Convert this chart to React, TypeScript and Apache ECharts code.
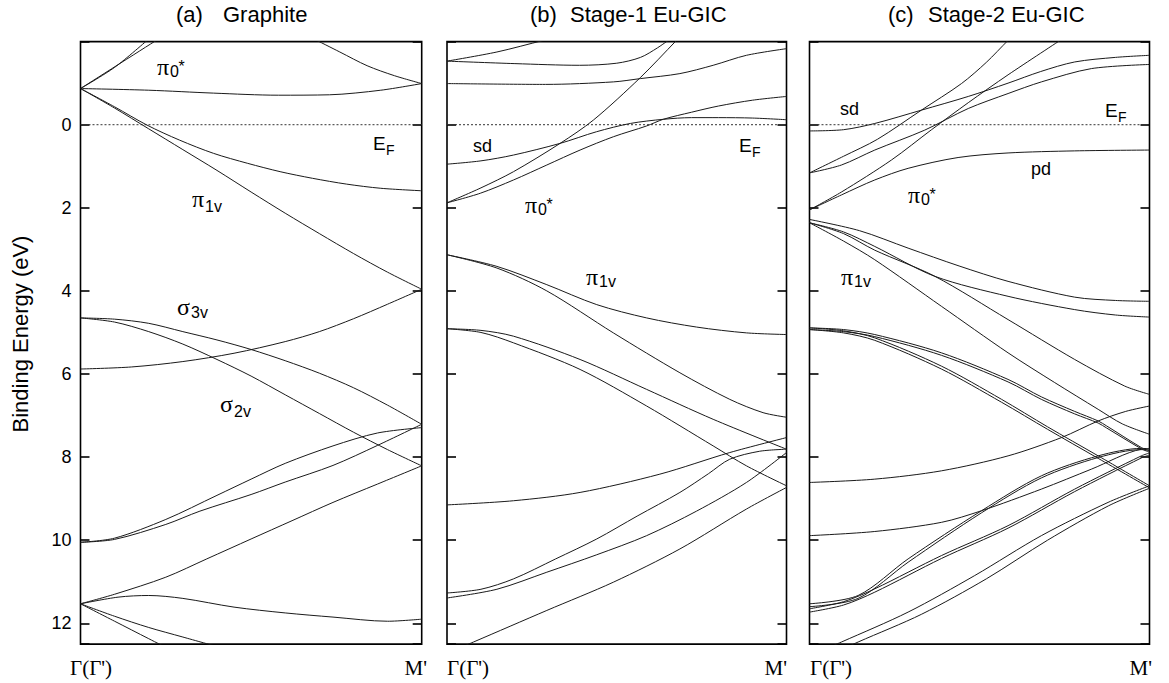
import React, { useEffect, useRef } from 'react';
import * as echarts from 'echarts';

type Pt = [number, number];

// ---------- (a) Graphite bands: [k (Γ=0 … M'=1), binding energy eV] ----------
const gPi0Flat: Pt[] = [[0, -0.87], [0.2, -0.83], [0.39, -0.76], [0.58, -0.71], [0.73, -0.72], [0.88, -0.83], [1, -0.99]];
const gPi0UpA: Pt[] = [[0, -0.87], [0.226, -2.05]];
const gPi0UpB: Pt[] = [[0, -0.87], [0.1, -1.38], [0.198, -2.05]];
const gPi0Right: Pt[] = [[0.69, -2.04], [0.76, -1.75], [0.84, -1.42], [0.92, -1.18], [1, -0.99]];
const gPiUpper: Pt[] = [[0, -0.87], [0.1, -0.43], [0.195, 0.01], [0.29, 0.37], [0.39, 0.69], [0.49, 0.93], [0.585, 1.13], [0.68, 1.29], [0.78, 1.43], [0.88, 1.53], [1, 1.59]];
const gPi1v: Pt[] = [[0, -0.87], [0.1, -0.4], [0.2, 0.1], [0.3, 0.6], [0.4, 1.1], [0.5, 1.62], [0.6, 2.13], [0.7, 2.62], [0.8, 3.1], [0.9, 3.55], [1, 3.96]];
const gSigmaRise: Pt[] = [[0, 5.88], [0.15, 5.83], [0.3, 5.7], [0.45, 5.5], [0.6, 5.22], [0.7, 4.98], [0.8, 4.67], [0.9, 4.32], [1, 3.96]];
const gSigma3v: Pt[] = [[0, 4.65], [0.1, 4.68], [0.2, 4.78], [0.3, 4.98], [0.4, 5.18], [0.5, 5.41], [0.6, 5.68], [0.7, 5.98], [0.8, 6.33], [0.9, 6.75], [1, 7.21]];
const gSigma2v: Pt[] = [[0, 4.65], [0.1, 4.75], [0.2, 4.98], [0.3, 5.28], [0.4, 5.65], [0.5, 6.05], [0.6, 6.5], [0.7, 6.95], [0.8, 7.4], [0.9, 7.82], [1, 8.21]];
const gD1: Pt[] = [[0, 10.05], [0.1, 9.95], [0.25, 9.5], [0.4, 8.92], [0.5, 8.53], [0.6, 8.15], [0.74, 7.73], [0.87, 7.42], [1, 7.29]];
const gD2: Pt[] = [[0, 10.05], [0.1, 9.98], [0.25, 9.62], [0.35, 9.3], [0.5, 8.9], [0.6, 8.6], [0.74, 8.2], [0.87, 7.72], [1, 7.21]];
const gE: Pt[] = [[0, 11.53], [0.1, 11.3], [0.25, 10.89], [0.37, 10.45], [0.5, 9.97], [0.62, 9.53], [0.74, 9.09], [0.87, 8.65], [1, 8.21]];
const gF: Pt[] = [[0, 11.53], [0.11, 11.37], [0.2, 11.33], [0.3, 11.4], [0.45, 11.61], [0.6, 11.75], [0.74, 11.85], [0.9, 11.95], [1, 11.9]];
const gG: Pt[] = [[0, 11.53], [0.1, 11.83], [0.2, 12.1], [0.3, 12.33], [0.4, 12.56]];
const gH: Pt[] = [[0, 11.53], [0.1, 11.95], [0.2, 12.37], [0.26, 12.62]];

// ---------- (b) Stage-1 Eu-GIC ----------
const s1Top1: Pt[] = [[0, -1.53], [0.147, -1.75], [0.284, -2.03], [0.32, -2.1]];
const s1Top2: Pt[] = [[0, -1.53], [0.2, -1.47], [0.39, -1.43], [0.5, -1.48], [0.57, -1.62], [0.62, -1.85], [0.655, -2.05]];
const s1Top3: Pt[] = [[0, -0.99], [0.29, -0.97], [0.49, -1.03], [0.57, -1.11], [0.686, -1.23], [0.784, -1.43], [0.882, -1.67], [1, -1.83]];
const s1Steep: Pt[] = [[0, 1.88], [0.1, 1.52], [0.196, 1.13], [0.333, 0.45], [0.431, -0.11], [0.569, -1.13], [0.676, -2.03], [0.69, -2.15]];
const s1Pi0: Pt[] = [[0, 1.88], [0.098, 1.65], [0.196, 1.33], [0.294, 0.97], [0.392, 0.61], [0.49, 0.29], [0.588, 0.03], [0.637, -0.13], [0.72, -0.3], [0.8, -0.45], [0.9, -0.59], [1, -0.68]];
const s1Sd: Pt[] = [[0, 0.95], [0.1, 0.87], [0.196, 0.73], [0.333, 0.45], [0.44, 0.17], [0.54, -0.03], [0.637, -0.13], [0.72, -0.17], [0.8, -0.17], [0.9, -0.16], [1, -0.12]];
const s1Pi1vUpper: Pt[] = [[0, 3.13], [0.147, 3.41], [0.294, 3.85], [0.441, 4.33], [0.588, 4.65], [0.735, 4.87], [0.882, 5.01], [1, 5.05]];
const s1Pi1vLower: Pt[] = [[0, 3.13], [0.147, 3.45], [0.294, 4.0], [0.49, 5.01], [0.686, 5.97], [0.833, 6.61], [0.931, 6.93], [1, 7.04]];
const s1SigmaUpper: Pt[] = [[0, 4.91], [0.1, 4.95], [0.196, 5.09], [0.392, 5.65], [0.588, 6.37], [0.784, 7.09], [1, 7.81]];
const s1SigmaLower: Pt[] = [[0, 4.91], [0.1, 5.0], [0.196, 5.25], [0.392, 5.89], [0.588, 6.77], [0.784, 7.73], [0.882, 8.21], [1, 8.69]];
const s1Band9: Pt[] = [[0, 9.15], [0.196, 9.05], [0.392, 8.85], [0.627, 8.41], [0.833, 7.89], [1, 7.53]];
const s1L1: Pt[] = [[0, 11.27], [0.1, 11.18], [0.196, 10.93], [0.32, 10.45], [0.441, 9.97], [0.56, 9.42], [0.686, 8.85], [0.77, 8.4], [0.833, 8.05], [0.92, 7.86], [1, 7.81]];
const s1L2: Pt[] = [[0, 11.39], [0.147, 11.18], [0.294, 10.77], [0.441, 10.35], [0.588, 9.89], [0.735, 9.3], [0.882, 8.61], [1, 7.89]];
const s1L3: Pt[] = [[0, 12.72], [0.078, 12.45], [0.294, 11.69], [0.49, 11.01], [0.686, 10.21], [0.882, 9.25], [1, 8.73]];

// ---------- (c) Stage-2 Eu-GIC ----------
const s2Sd: Pt[] = [[0, 0.15], [0.1, 0.12], [0.192, -0.03], [0.329, -0.35], [0.467, -0.68], [0.584, -1.0], [0.68, -1.28], [0.78, -1.51], [0.9, -1.62], [1, -1.67]];
const s2Band2: Pt[] = [[0, 1.16], [0.094, 0.97], [0.192, 0.61], [0.339, 0.13], [0.467, -0.39], [0.584, -0.75], [0.682, -1.03], [0.829, -1.35], [1, -1.45]];
const s2Steep1: Pt[] = [[0, 1.16], [0.1, 0.76], [0.2, 0.35], [0.329, -0.35], [0.447, -0.99], [0.52, -1.5], [0.584, -2.03], [0.6, -2.15]];
const s2Steep2: Pt[] = [[0, 2.05], [0.094, 1.62], [0.241, 0.85], [0.359, 0.12], [0.467, -0.53], [0.584, -1.2], [0.741, -2.05]];
const s2Pd: Pt[] = [[0, 2.05], [0.094, 1.69], [0.192, 1.33], [0.29, 1.05], [0.437, 0.79], [0.584, 0.68], [0.78, 0.63], [1, 0.61]];
const s2Pi1: Pt[] = [[0, 2.28], [0.147, 2.55], [0.29, 2.97], [0.44, 3.4], [0.584, 3.77], [0.78, 4.15], [0.9, 4.23], [1, 4.25]];
const s2Pi2: Pt[] = [[0, 2.36], [0.1, 2.58], [0.192, 2.93], [0.369, 3.65], [0.584, 4.13], [0.78, 4.45], [0.9, 4.58], [1, 4.63]];
const s2Pi3: Pt[] = [[0, 2.36], [0.1, 2.62], [0.192, 3.02], [0.369, 3.65], [0.584, 4.69], [0.78, 5.65], [0.927, 6.29], [1, 6.49]];
const s2Pi4: Pt[] = [[0, 2.36], [0.1, 2.8], [0.192, 3.25], [0.388, 4.37], [0.584, 5.49], [0.72, 6.2], [0.849, 6.85], [0.92, 7.2], [1, 7.45]];
const s2P1a: Pt[] = [[0, 4.89], [0.1, 4.93], [0.192, 5.05], [0.388, 5.49], [0.584, 6.13], [0.682, 6.55], [0.78, 6.9], [0.849, 7.13], [0.874, 7.25], [0.976, 7.77], [1, 7.85]];
const s2P1b: Pt[] = [[0, 4.93], [0.1, 4.98], [0.192, 5.1], [0.388, 5.55], [0.584, 6.19], [0.682, 6.61], [0.78, 6.96], [0.849, 7.18], [0.874, 7.3], [0.976, 7.8], [1, 7.88]];
const s2P2a: Pt[] = [[0, 4.89], [0.1, 4.96], [0.192, 5.13], [0.388, 5.81], [0.565, 6.61], [0.7, 7.27], [0.849, 7.97], [1, 8.69]];
const s2P2b: Pt[] = [[0, 4.93], [0.1, 5.01], [0.192, 5.19], [0.388, 5.88], [0.565, 6.68], [0.7, 7.33], [0.849, 8.03], [1, 8.74]];
const s2Band86: Pt[] = [[0, 8.61], [0.192, 8.53], [0.388, 8.33], [0.584, 7.97], [0.741, 7.53], [0.849, 7.13], [0.93, 6.9], [1, 6.77]];
const s2Band99: Pt[] = [[0, 9.89], [0.192, 9.79], [0.388, 9.57], [0.506, 9.29], [0.682, 8.77], [0.829, 8.29], [0.976, 7.81], [1, 7.8]];
const s2G1a: Pt[] = [[0, 11.53], [0.143, 11.33], [0.29, 10.45], [0.506, 9.29], [0.682, 8.45], [0.849, 7.97], [0.976, 7.79], [1, 7.8]];
const s2G1b: Pt[] = [[0, 11.6], [0.143, 11.4], [0.29, 10.53], [0.506, 9.34], [0.682, 8.5], [0.849, 8.01], [0.976, 7.82], [1, 7.83]];
const s2G2a: Pt[] = [[0, 11.65], [0.1, 11.48], [0.192, 11.17], [0.388, 10.37], [0.584, 9.65], [0.78, 8.77], [0.976, 7.97], [1, 7.9]];
const s2G2b: Pt[] = [[0, 11.73], [0.1, 11.56], [0.192, 11.25], [0.388, 10.44], [0.584, 9.71], [0.78, 8.83], [0.976, 8.02], [1, 7.95]];
const s2G3a: Pt[] = [[0, 12.78], [0.094, 12.45], [0.29, 11.73], [0.486, 10.85], [0.682, 9.89], [0.878, 9.09], [1, 8.69]];
const s2G3b: Pt[] = [[0, 12.98], [0.143, 12.45], [0.33, 11.78], [0.52, 10.93], [0.7, 10.0], [0.88, 9.17], [1, 8.75]];

const fermiLevel: Pt[] = [[0, 0], [1, 0]];
const yTickLabels = [0, 2, 4, 6, 8, 10, 12];
const panelTitles = [['(a)', 'Graphite'], ['(b)', 'Stage-1 Eu-GIC'], ['(c)', 'Stage-2 Eu-GIC']];
const kStart = "Γ(Γ')";
const kEnd = "M'";
const yName = 'Binding Energy (eV)';

const graphiteBands = [gPi0Flat, gPi0UpA, gPi0UpB, gPi0Right, gPiUpper, gPi1v, gSigmaRise, gSigma3v, gSigma2v, gD1, gD2, gE, gF, gG, gH];
const stage1Bands = [s1Top1, s1Top2, s1Top3, s1Steep, s1Pi0, s1Sd, s1Pi1vUpper, s1Pi1vLower, s1SigmaUpper, s1SigmaLower, s1Band9, s1L1, s1L2, s1L3];
const stage2Bands = [s2Sd, s2Band2, s2Steep1, s2Steep2, s2Pd, s2Pi1, s2Pi2, s2Pi3, s2Pi4, s2P1a, s2P1b, s2P2a, s2P2b, s2Band86, s2Band99, s2G1a, s2G1b, s2G2a, s2G2b, s2G3a, s2G3b];

const SERIF = '"Liberation Serif", "DejaVu Serif", "Times New Roman", serif';
const SANS = '"Liberation Sans", Arial, Helvetica, sans-serif';

const panels = [
  { bands: graphiteBands, left: 80.5, width: 341.2, titleX: [176, 223], kx: [70, 427] },
  { bands: stage1Bands, left: 447, width: 339.5, titleX: [530, 570], kx: [447, 787] },
  { bands: stage2Bands, left: 809.5, width: 340, titleX: [888, 928], kx: [810, 1152] },
];
const GRID_TOP = 41.6;
const GRID_H = 602.5;

function txt(x: number, y: number, text: string, size: number, family: string, align = 'left', extra: any = {}) {
  return {
    type: 'text', x, y, silent: true, z: 10, ...extra,
    style: { text, fontSize: size, fontFamily: family, fill: '#000', align, textAlign: align, verticalAlign: 'middle', textVerticalAlign: 'middle' },
  };
}

function buildOption() {
  const grid: any[] = [];
  const xAxis: any[] = [];
  const yAxis: any[] = [];
  const series: any[] = [];
  panels.forEach((p, i) => {
    grid.push({ left: p.left, top: GRID_TOP, width: p.width, height: GRID_H, show: true, borderColor: '#000', borderWidth: 1.6, backgroundColor: 'transparent' });
    xAxis.push({ gridIndex: i, type: 'value', min: 0, max: 1, show: false });
    yAxis.push({
      gridIndex: i, type: 'value', inverse: true, min: -2, max: 12.5, interval: 2, position: 'left',
      axisLine: { show: false }, splitLine: { show: false },
      axisTick: { show: true, inside: true, length: 9, lineStyle: { color: '#000', width: 1.6 } },
      axisLabel: i === 0 ? {
        show: true, fontSize: 18, color: '#000', fontFamily: SANS, margin: 9,
        formatter: (v: number) => (yTickLabels.indexOf(v) >= 0 ? String(v) : ''),
      } : { show: false },
    });
  });
  panels.forEach((p, i) => {
    yAxis.push({
      gridIndex: i, type: 'value', inverse: true, min: -2, max: 12.5, interval: 2, position: 'right',
      axisLine: { show: false }, splitLine: { show: false }, axisLabel: { show: false },
      axisTick: { show: true, inside: true, length: 9, lineStyle: { color: '#000', width: 1.6 } },
    });
  });
  panels.forEach((p, i) => {
    p.bands.forEach((b) => {
      series.push({
        type: 'line', xAxisIndex: i, yAxisIndex: i, data: b, showSymbol: false, smooth: 0.3,
        lineStyle: { color: '#1a1a1a', width: 1 }, silent: true, z: 3,
      });
    });
    series.push({
      type: 'line', xAxisIndex: i, yAxisIndex: i, data: fermiLevel, showSymbol: false,
      lineStyle: { color: '#333', width: 1, type: [2, 2] }, silent: true, z: 2,
    });
  });

  const g: any[] = [];
  panels.forEach((p, i) => {
    g.push(txt(p.titleX[0], 14.5, panelTitles[i][0], 22, SANS));
    g.push(txt(p.titleX[1], 14.5, panelTitles[i][1], 22, SANS));
    g.push(txt(p.kx[0], 667.5, kStart, 21, SERIF, 'left'));
    g.push(txt(p.kx[1], 667.5, kEnd, 21, SERIF, 'right'));
  });
  g.push(txt(20, 334, yName, 22, SANS, 'center', { rotation: Math.PI / 2 }));

  const greek = (x: number, y: number, ch: string) => txt(x, y, ch, 24, SERIF);
  const sub = (x: number, y: number, s: string) => txt(x, y, s, 16, SANS);
  const piStar = (x: number, y: number) => [greek(x, y, 'π'), sub(x + 13, y + 4.8, '0'), sub(x + 21.5, y - 0.7, '*')];
  const ef = (x: number, y: number) => [txt(x, y, 'E', 19, SANS), txt(x + 13, y + 6.7, 'F', 14, SANS)];
  // (a)
  g.push(...piStar(157, 66.8));
  g.push(greek(192, 198.8, 'π'), sub(205, 206.6, '1v'));
  g.push(greek(177, 306.8, 'σ'), sub(191, 312.6, '3v'));
  g.push(greek(220, 403.8, 'σ'), sub(234, 411.6, '2v'));
  g.push(...ef(373, 143.5));
  // (b)
  g.push(txt(473, 145.9, 'sd', 18, SANS));
  g.push(...ef(739, 145.5));
  g.push(...piStar(525, 204.8));
  g.push(greek(586, 276.8, 'π'), sub(599, 281.6, '1v'));
  // (c)
  g.push(txt(840, 108.9, 'sd', 18, SANS));
  g.push(...ef(1105, 110.5));
  g.push(txt(1031, 169, 'pd', 18, SANS));
  g.push(...piStar(908, 194.8));
  g.push(greek(841, 276.8, 'π'), sub(854, 281.6, '1v'));

  return {
    animation: false,
    backgroundColor: '#fff',
    grid, xAxis, yAxis, series,
    graphic: { elements: g },
  };
}

export default function App() {
  const ref = useRef<HTMLDivElement>(null);
  useEffect(() => {
    document.body.style.margin = '0';
    const chart = echarts.init(ref.current!, undefined, { renderer: 'svg', width: 1169, height: 683 });
    chart.setOption(buildOption() as any);
    return () => chart.dispose();
  }, []);
  return <div ref={ref} style={{ position: 'absolute', left: 0, top: 0, width: 1169, height: 683, background: '#fff' }} />;
}
